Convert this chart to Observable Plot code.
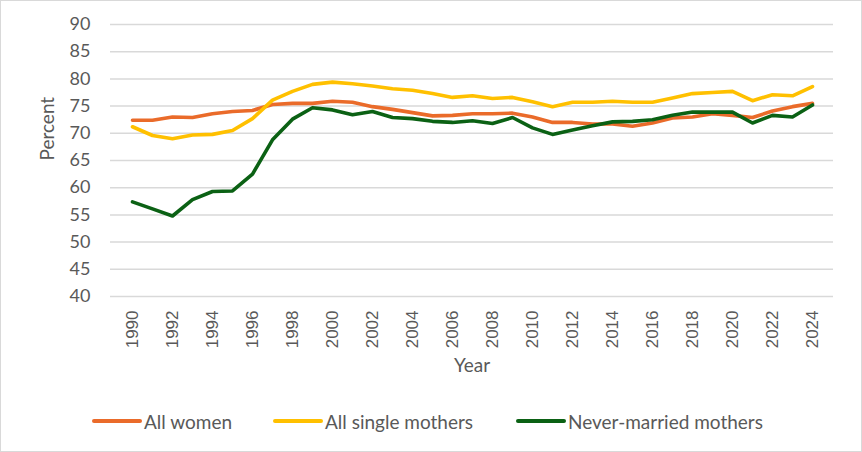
<!DOCTYPE html>
<html>
<head>
<meta charset="utf-8">
<script src="https://cdn.jsdelivr.net/npm/d3@7"></script>
<script src="https://cdn.jsdelivr.net/npm/@observablehq/plot@0.6"></script>
<style>
  html, body { margin: 0; padding: 0; background: #fff; }
  #wrap { position: relative; width: 862px; height: 452px; overflow: hidden; background: #fff; }
  #frame { position: absolute; left: 0; top: 0; width: 862px; height: 452px; box-sizing: border-box; border: 1px solid #d9d9d9; pointer-events: none; }
  #chart { position: absolute; left: 0; top: 0; }
  .leg { position: absolute; top: 408px; display: flex; align-items: center; height: 26px;
         font-family: Lato, "Open Sans", sans-serif; font-size: 19px; color: #595959; white-space: nowrap; }
  .sw { width: 50px; height: 4px; border-radius: 2px; margin-right: 2px; }
</style>
</head>
<body>
<div id="wrap">
  <div id="chart"></div>
  <div id="legend"></div>
  <div id="frame"></div>
</div>
<script>
const years = [1990,1991,1992,1993,1994,1995,1996,1997,1998,1999,2000,2001,2002,2003,2004,2005,2006,2007,2008,2009,2010,2011,2012,2013,2014,2015,2016,2017,2018,2019,2020,2021,2022,2023,2024];
const allWomen = [72.4,72.4,73.0,72.9,73.6,74.0,74.2,75.3,75.5,75.5,75.9,75.7,74.9,74.4,73.8,73.2,73.3,73.6,73.6,73.7,73.0,72.0,72.0,71.7,71.7,71.3,71.9,72.8,73.0,73.6,73.3,72.9,74.1,74.9,75.5];
const allSingleMothers = [71.2,69.6,69.0,69.7,69.8,70.5,72.7,76.1,77.7,79.0,79.4,79.1,78.7,78.2,77.9,77.3,76.6,76.9,76.4,76.6,75.8,74.9,75.7,75.7,75.9,75.7,75.7,76.5,77.3,77.5,77.7,76.0,77.1,76.9,78.6];
const neverMarriedMothers = [57.4,56.1,54.8,57.8,59.3,59.4,62.5,68.8,72.6,74.7,74.3,73.4,74.0,72.9,72.7,72.2,72.0,72.3,71.8,72.9,71.0,69.8,70.6,71.4,72.1,72.2,72.5,73.3,73.9,73.9,73.9,71.9,73.3,73.0,75.2];
const seriesNames = ["All women", "All single mothers", "Never-married mothers"];
const seriesColors = ["#EA6B2A", "#FFC000", "#0B6114"];
const yTicks = [40,45,50,55,60,65,70,75,80,85,90];
const xTicks = [1990,1992,1994,1996,1998,2000,2002,2004,2006,2008,2010,2012,2014,2016,2018,2020,2022,2024];
const yLabel = "Percent";
const xLabel = "Year";

const seriesValues = [allWomen, allSingleMothers, neverMarriedMothers];
const data = seriesNames.flatMap((s, k) => years.map((yr, i) => ({year: yr, value: seriesValues[k][i], series: s})));

const chart = Plot.plot({
  width: 862,
  height: 390,
  marginLeft: 110,
  marginRight: 29,
  marginTop: 24,
  marginBottom: 94,
  style: {fontFamily: "Lato, 'Open Sans', sans-serif", fontSize: "17px", color: "#595959", background: "transparent"},
  x: {type: "point", domain: years, padding: 0.5},
  y: {domain: [40, 90]},
  color: {domain: seriesNames, range: seriesColors},
  marks: [
    Plot.ruleY(yTicks, {stroke: "#d9d9d9", strokeWidth: 1.5}),
    Plot.axisY({ticks: yTicks, tickSize: 0, tickPadding: 20, label: null, fontSize: 18, fill: "#595959"}),
    Plot.axisX({ticks: xTicks, tickFormat: d => String(d), tickSize: 0, tickRotate: -90, tickPadding: 14, label: null, fontFamily: "'Liberation Sans', Arial, sans-serif", fontSize: 17, fill: "#595959"}),
    Plot.lineY(data, {x: "year", y: "value", stroke: "series", strokeWidth: 3.6, strokeLinejoin: "round", strokeLinecap: "round"}),
    Plot.text([yLabel], {frameAnchor: "left", dx: -63, rotate: -90, fontSize: 19, fill: "#595959"}),
    Plot.text([xLabel], {frameAnchor: "bottom", dy: 75, fontSize: 19, fill: "#595959"})
  ]
});
document.getElementById("chart").appendChild(chart);

const legendLeft = [92, 273, 516];
const legend = document.getElementById("legend");
seriesNames.forEach((s, k) => {
  const item = document.createElement("div");
  item.className = "leg";
  item.style.left = legendLeft[k] + "px";
  const sw = document.createElement("div");
  sw.className = "sw";
  sw.style.background = seriesColors[k];
  const t = document.createElement("span");
  t.textContent = s;
  item.appendChild(sw);
  item.appendChild(t);
  legend.appendChild(item);
});
</script>
</body>
</html>
